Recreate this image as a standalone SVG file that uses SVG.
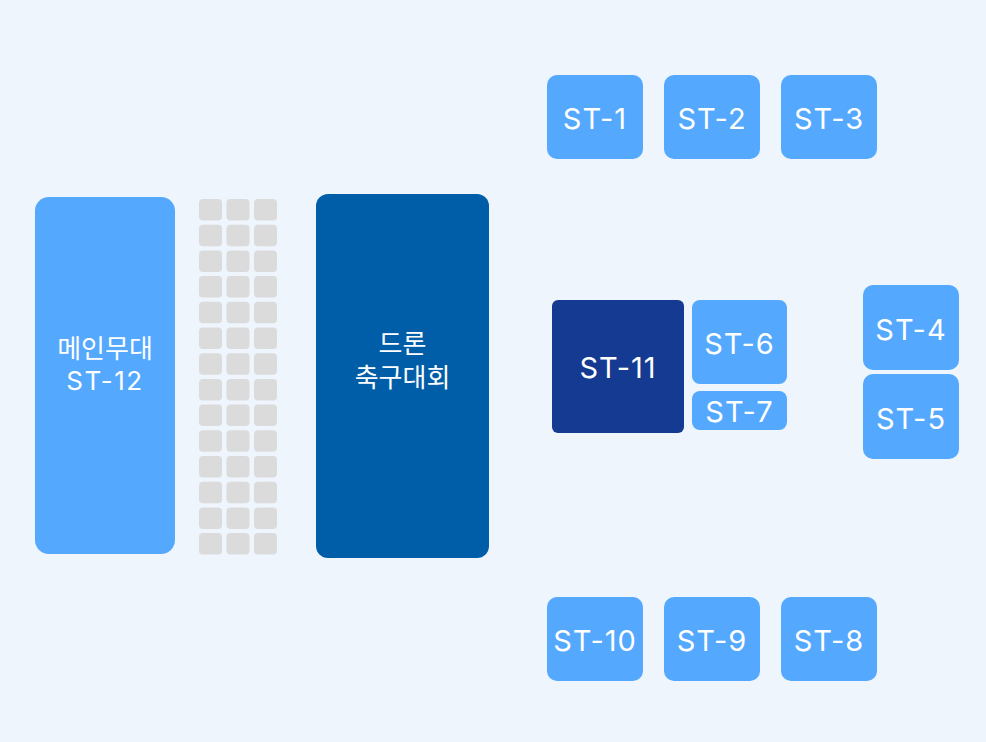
<svg xmlns="http://www.w3.org/2000/svg" width="986" height="742" viewBox="0 0 986 742">
<style>
.bg{fill:#EEF5FC}
.st{fill:#54A8FD}
.seat{fill:#DBDBDB}
.t{fill:#FFFFFF;font-family:Inter,"Noto Sans CJK KR","Noto Sans",sans-serif;text-anchor:middle;dominant-baseline:central}
.l{font-size:29px;letter-spacing:1px}
.m{font-size:26px}
.m2{font-size:26px;letter-spacing:1.5px}
</style>
<rect class="bg" x="0" y="0" width="986" height="742"/>
<g id="main-stage">
<rect class="st" x="35" y="197" width="140" height="357" rx="14"/>
<text class="t m" x="105" y="348">메인무대</text>
<text class="t m2" x="105" y="380">ST-12</text>
</g>
<g id="seats">
<g id="seat-col1">
<rect class="seat" x="199" y="199" width="23" height="21.5" rx="4"/>
<rect class="seat" x="199" y="224.7" width="23" height="21.5" rx="4"/>
<rect class="seat" x="199" y="250.4" width="23" height="21.5" rx="4"/>
<rect class="seat" x="199" y="276.1" width="23" height="21.5" rx="4"/>
<rect class="seat" x="199" y="301.8" width="23" height="21.5" rx="4"/>
<rect class="seat" x="199" y="327.5" width="23" height="21.5" rx="4"/>
<rect class="seat" x="199" y="353.2" width="23" height="21.5" rx="4"/>
<rect class="seat" x="199" y="378.9" width="23" height="21.5" rx="4"/>
<rect class="seat" x="199" y="404.6" width="23" height="21.5" rx="4"/>
<rect class="seat" x="199" y="430.3" width="23" height="21.5" rx="4"/>
<rect class="seat" x="199" y="456" width="23" height="21.5" rx="4"/>
<rect class="seat" x="199" y="481.7" width="23" height="21.5" rx="4"/>
<rect class="seat" x="199" y="507.4" width="23" height="21.5" rx="4"/>
<rect class="seat" x="199" y="533.1" width="23" height="21.5" rx="4"/>
</g>
<g id="seat-col2">
<rect class="seat" x="226.5" y="199" width="23" height="21.5" rx="4"/>
<rect class="seat" x="226.5" y="224.7" width="23" height="21.5" rx="4"/>
<rect class="seat" x="226.5" y="250.4" width="23" height="21.5" rx="4"/>
<rect class="seat" x="226.5" y="276.1" width="23" height="21.5" rx="4"/>
<rect class="seat" x="226.5" y="301.8" width="23" height="21.5" rx="4"/>
<rect class="seat" x="226.5" y="327.5" width="23" height="21.5" rx="4"/>
<rect class="seat" x="226.5" y="353.2" width="23" height="21.5" rx="4"/>
<rect class="seat" x="226.5" y="378.9" width="23" height="21.5" rx="4"/>
<rect class="seat" x="226.5" y="404.6" width="23" height="21.5" rx="4"/>
<rect class="seat" x="226.5" y="430.3" width="23" height="21.5" rx="4"/>
<rect class="seat" x="226.5" y="456" width="23" height="21.5" rx="4"/>
<rect class="seat" x="226.5" y="481.7" width="23" height="21.5" rx="4"/>
<rect class="seat" x="226.5" y="507.4" width="23" height="21.5" rx="4"/>
<rect class="seat" x="226.5" y="533.1" width="23" height="21.5" rx="4"/>
</g>
<g id="seat-col3">
<rect class="seat" x="254" y="199" width="23" height="21.5" rx="4"/>
<rect class="seat" x="254" y="224.7" width="23" height="21.5" rx="4"/>
<rect class="seat" x="254" y="250.4" width="23" height="21.5" rx="4"/>
<rect class="seat" x="254" y="276.1" width="23" height="21.5" rx="4"/>
<rect class="seat" x="254" y="301.8" width="23" height="21.5" rx="4"/>
<rect class="seat" x="254" y="327.5" width="23" height="21.5" rx="4"/>
<rect class="seat" x="254" y="353.2" width="23" height="21.5" rx="4"/>
<rect class="seat" x="254" y="378.9" width="23" height="21.5" rx="4"/>
<rect class="seat" x="254" y="404.6" width="23" height="21.5" rx="4"/>
<rect class="seat" x="254" y="430.3" width="23" height="21.5" rx="4"/>
<rect class="seat" x="254" y="456" width="23" height="21.5" rx="4"/>
<rect class="seat" x="254" y="481.7" width="23" height="21.5" rx="4"/>
<rect class="seat" x="254" y="507.4" width="23" height="21.5" rx="4"/>
<rect class="seat" x="254" y="533.1" width="23" height="21.5" rx="4"/>
</g>
</g>
<g id="drone-soccer">
<rect x="316" y="194" width="173" height="364" rx="12" fill="#005EA8"/>
<text class="t m" x="402.5" y="343">드론</text>
<text class="t m" x="402.5" y="377">축구대회</text>
</g>
<g id="st-1"><rect class="st" x="547" y="75" width="96" height="84" rx="10"/><text class="t l" x="595" y="118">ST-1</text></g>
<g id="st-2"><rect class="st" x="664" y="75" width="96" height="84" rx="10"/><text class="t l" x="712" y="118">ST-2</text></g>
<g id="st-3"><rect class="st" x="781" y="75" width="96" height="84" rx="10"/><text class="t l" x="829" y="118">ST-3</text></g>
<g id="st-11"><rect x="552" y="300" width="132" height="133" rx="6" fill="#153A92"/><text class="t l" x="618" y="367">ST-11</text></g>
<g id="st-6"><rect class="st" x="692" y="300" width="95" height="84" rx="8"/><text class="t l" x="739.5" y="343">ST-6</text></g>
<g id="st-7"><rect class="st" x="692" y="391" width="95" height="39" rx="8"/><text class="t l" x="739.5" y="411">ST-7</text></g>
<g id="st-4"><rect class="st" x="863" y="285" width="96" height="85" rx="10"/><text class="t l" x="911" y="329">ST-4</text></g>
<g id="st-5"><rect class="st" x="863" y="374" width="96" height="85" rx="10"/><text class="t l" x="911" y="418">ST-5</text></g>
<g id="st-10"><rect class="st" x="547" y="597" width="96" height="84" rx="10"/><text class="t l" x="595" y="640">ST-10</text></g>
<g id="st-9"><rect class="st" x="664" y="597" width="96" height="84" rx="10"/><text class="t l" x="712" y="640">ST-9</text></g>
<g id="st-8"><rect class="st" x="781" y="597" width="96" height="84" rx="10"/><text class="t l" x="829" y="640">ST-8</text></g>
<g id="connectors"/>
</svg>
